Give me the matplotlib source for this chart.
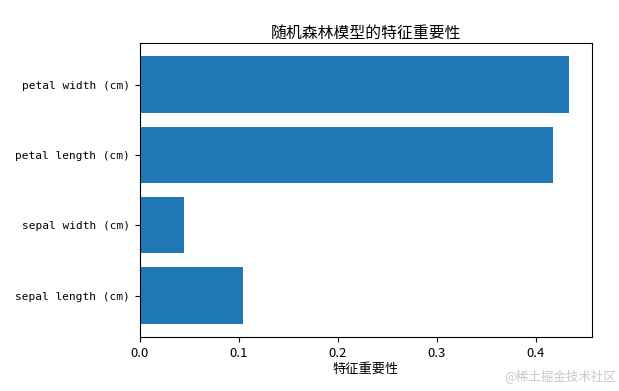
import matplotlib.pyplot as plt

features = ['sepal length (cm)', 'sepal width (cm)', 'petal length (cm)', 'petal width (cm)']
importances = [0.104, 0.0445, 0.417, 0.434]
x_ticks = [0.0, 0.1, 0.2, 0.3, 0.4]
x_tick_labels = ['0.0', '0.1', '0.2', '0.3', '0.4']

plt.rcParams['font.family'] = ['Noto Sans CJK SC', 'DejaVu Sans']
plt.rcParams['axes.unicode_minus'] = False

fig = plt.figure(figsize=(6.19, 3.91), dpi=100)
ax = fig.add_axes([0.226, 0.138, 0.730, 0.752])

ax.barh(features, importances, color='#1f77b4')
ax.set_xlim(0, 0.4566)
ax.set_xticks(x_ticks)
ax.set_xticklabels(x_tick_labels, fontsize=9.5)
for lbl in ax.get_yticklabels():
    lbl.set_fontfamily('DejaVu Sans Mono')
    lbl.set_fontsize(8)

ax.set_title('随机森林模型的特征重要性', fontsize=11.4, pad=4)
ax.set_xlabel('特征重要性', fontsize=9.5, labelpad=2)

# watermark from source page
fig.text(0.995, 0.02, '@稀土掘金技术社区', ha='right', va='bottom',
         fontsize=9, color='#c8c8c8')

fig.savefig('out.png', dpi=100)
